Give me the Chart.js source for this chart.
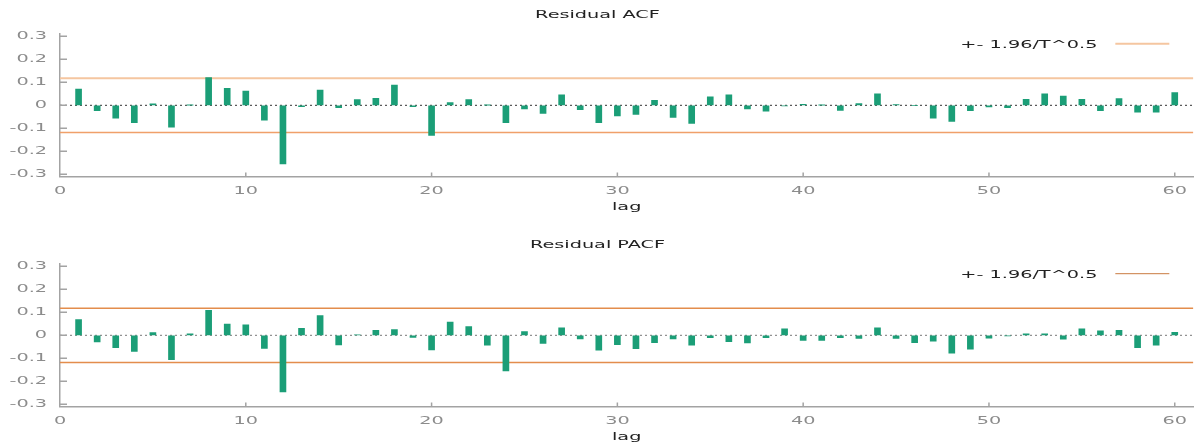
<!DOCTYPE html>
<html>
<head>
<meta charset="utf-8">
<script src="https://cdn.jsdelivr.net/npm/chart.js@4.4.1/dist/chart.umd.min.js"></script>
<style>
    html, body { margin: 0; padding: 0; background: #fff; width: 1195px; height: 447px; overflow: hidden; }
    .box { position: absolute; left: 0; width: 1195px; height: 230px; }
    #top { top: 0; }
    #bottom { top: 230px; }
</style>
</head>
<body>
<div class="box" id="top"><canvas id="acfChart"></canvas></div>
<div class="box" id="bottom"><canvas id="pacfChart"></canvas></div>
<script>
const lags = [1, 2, 3, 4, 5, 6, 7, 8, 9, 10, 11, 12, 13, 14, 15, 16, 17, 18, 19, 20,
    21, 22, 23, 24, 25, 26, 27, 28, 29, 30, 31, 32, 33, 34, 35, 36, 37, 38, 39, 40,
    41, 42, 43, 44, 45, 46, 47, 48, 49, 50, 51, 52, 53, 54, 55, 56, 57, 58, 59, 60];

const acfValues = [0.07, -0.023, -0.056, -0.076, 0.006, -0.095, 0.001, 0.12, 0.074, 0.062,
    -0.065, -0.255, -0.006, 0.066, -0.01, 0.025, 0.03, 0.088, -0.006, -0.131,
    0.012, 0.025, 0.001, -0.075, -0.016, -0.035, 0.046, -0.019, -0.075, -0.046,
    -0.04, 0.022, -0.053, -0.079, 0.037, 0.045, -0.016, -0.026, -0.003, 0.004,
    0.001, -0.022, 0.007, 0.05, 0.003, 0.0, -0.056, -0.07, -0.023, -0.007,
    -0.01, 0.026, 0.05, 0.04, 0.026, -0.023, 0.029, -0.03, -0.03, 0.055];

const pacfValues = [0.068, -0.029, -0.054, -0.07, 0.012, -0.106, 0.006, 0.109, 0.049, 0.045,
    -0.057, -0.246, 0.03, 0.086, -0.042, 0.002, 0.022, 0.025, -0.009, -0.064,
    0.058, 0.038, -0.043, -0.155, 0.016, -0.035, 0.032, -0.016, -0.065, -0.041,
    -0.058, -0.032, -0.016, -0.043, -0.01, -0.028, -0.033, -0.01, 0.028, -0.022,
    -0.022, -0.01, -0.014, 0.032, -0.014, -0.032, -0.025, -0.078, -0.06, -0.012,
    -0.002, 0.006, 0.006, -0.017, 0.028, 0.019, 0.022, -0.054, -0.043, 0.013];

const band = 0.118;
const xTicks = [0, 10, 20, 30, 40, 50, 60];
const yTicks = [-0.3, -0.2, -0.1, 0, 0.1, 0.2, 0.3];
const yTickLabels = ['-0.3', '-0.2', '-0.1', '0', '0.1', '0.2', '0.3'];
const legendLabel = '+- 1.96/T^0.5';

const FONT = { family: '"DejaVu Sans"', size: 11, weight: 'normal' };
const AXIS_GRAY = '#a3a3a3';
const STRETCH = 1.75;

// the original export has horizontally stretched lettering
function stretchText(ctx) {
    if (ctx._stretched) return;
    ctx._stretched = true;
    const fill = ctx.fillText;
    const measure = ctx.measureText;
    ctx.fillText = function (text, x, y, maxWidth) {
        this.save();
        this.translate(x, y);
        this.scale(STRETCH, 1);
        if (maxWidth === undefined) fill.call(this, text, 0, 0);
        else fill.call(this, text, 0, 0, maxWidth / STRETCH);
        this.restore();
    };
    ctx.measureText = function (text) {
        const m = measure.call(this, text);
        return {
            width: m.width * STRETCH,
            actualBoundingBoxAscent: m.actualBoundingBoxAscent,
            actualBoundingBoxDescent: m.actualBoundingBoxDescent,
            actualBoundingBoxLeft: m.actualBoundingBoxLeft * STRETCH,
            actualBoundingBoxRight: m.actualBoundingBoxRight * STRETCH
        };
    };
}

// short tick marks pointing into the plot
const innerTicks = {
    id: 'innerTicks',
    afterDraw(chart) {
        const { ctx, chartArea: a, scales: { x, y } } = chart;
        ctx.save();
        ctx.strokeStyle = AXIS_GRAY;
        ctx.lineWidth = 1.5;
        ctx.beginPath();
        y.ticks.forEach(t => {
            const py = y.getPixelForValue(t.value);
            ctx.moveTo(a.left, py);
            ctx.lineTo(a.left + 7, py);
        });
        x.ticks.forEach(t => {
            if (t.value === 0) return;
            const px = x.getPixelForValue(t.value);
            ctx.moveTo(px, a.bottom);
            ctx.lineTo(px, a.bottom - 4);
        });
        ctx.stroke();
        ctx.restore();
    }
};

const bandLegend = {
    id: 'bandLegend',
    afterDraw(chart, args, opts) {
        const { ctx, chartArea: a } = chart;
        ctx.save();
        ctx.font = '11px "DejaVu Sans"';
        ctx.fillStyle = '#222';
        ctx.textAlign = 'left';
        ctx.textBaseline = 'middle';
        ctx.fillText(legendLabel, a.right - 233, a.top + 10.7);
        ctx.strokeStyle = opts.color;
        ctx.lineWidth = opts.width;
        ctx.beginPath();
        ctx.moveTo(a.right - 78, a.top + 9.7);
        ctx.lineTo(a.right - 24, a.top + 9.7);
        ctx.stroke();
        ctx.restore();
    }
};

function hline(y, color, width, dash) {
    return {
        type: 'line',
        data: [{ x: 0, y: y }, { x: 61, y: y }],
        borderColor: color,
        borderWidth: width,
        borderDash: dash || [],
        pointRadius: 0,
        order: 2
    };
}

function makeChart(id, title, values, look) {
    const canvas = document.getElementById(id);
    stretchText(canvas.getContext('2d'));
    return new Chart(canvas, {
        type: 'bar',
        data: {
            datasets: [
                hline(0, look.zero, 1, [2, 3]),
                hline(band, look.upper, look.upperWidth),
                hline(-band, look.lower, look.lowerWidth),
                {
                    type: 'bar',
                    data: lags.map((l, i) => ({ x: l, y: values[i] })),
                    backgroundColor: '#1b9e77',
                    barThickness: 6,
                    order: 1
                }
            ]
        },
        options: {
            responsive: true,
            maintainAspectRatio: false,
            animation: false,
            layout: { padding: 0 },
            plugins: {
                legend: { display: false },
                tooltip: { enabled: false },
                title: {
                    display: true,
                    text: title,
                    color: '#222',
                    font: FONT,
                    padding: { top: 9, bottom: 11.8 }
                },
                bandLegend: { color: look.legendColor, width: look.legendWidth }
            },
            scales: {
                x: {
                    type: 'linear',
                    min: 0,
                    max: 61,
                    offset: false,
                    grid: { display: true, drawOnChartArea: false, drawTicks: false },
                    border: { color: AXIS_GRAY, width: 1.5 },
                    ticks: { color: '#8c8c8c', font: FONT, padding: 8, maxRotation: 0 },
                    afterBuildTicks: s => { s.ticks = xTicks.map(v => ({ value: v })); },
                    afterFit: s => { s.height = 230 - 176.6; },
                    title: { display: true, text: 'lag', color: '#222', font: FONT, padding: { top: 0, bottom: 16.4 } }
                },
                y: {
                    min: -0.31,
                    max: 0.31,
                    grid: { display: true, drawOnChartArea: false, drawTicks: false },
                    border: { color: AXIS_GRAY, width: 1.5 },
                    ticks: {
                        color: '#8c8c8c',
                        font: FONT,
                        padding: 13,
                        callback: (v, i) => yTickLabels[i]
                    },
                    afterBuildTicks: s => { s.ticks = yTicks.map(v => ({ value: v })); },
                    afterFit: s => { s.width = 60; }
                }
            }
        },
        plugins: [innerTicks, bandLegend]
    });
}

makeChart('acfChart', 'Residual ACF', acfValues, {
    zero: '#333',
    upper: '#f5c6a0', upperWidth: 2,
    lower: '#f0a06a', lowerWidth: 1.5,
    legendColor: '#f5c6a0', legendWidth: 2
});

makeChart('pacfChart', 'Residual PACF', pacfValues, {
    zero: '#777',
    upper: '#e38d4c', upperWidth: 1.5,
    lower: '#e38d4c', lowerWidth: 1.5,
    legendColor: '#c97a40', legendWidth: 1
});
</script>
</body>
</html>
